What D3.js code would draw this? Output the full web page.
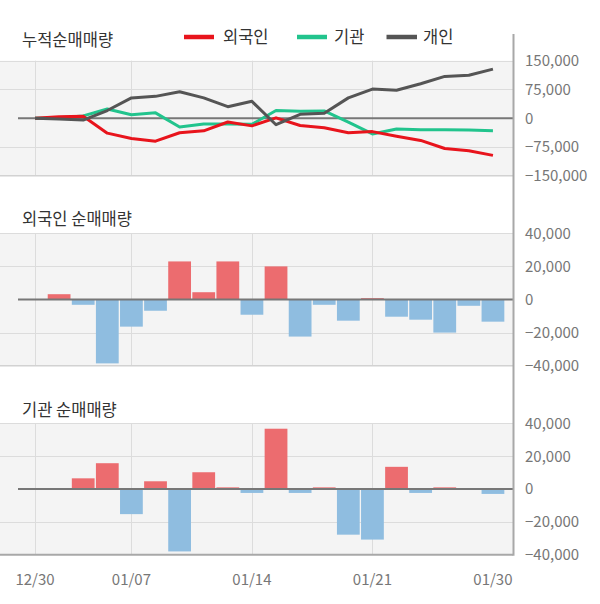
<!DOCTYPE html>
<html><head><meta charset="utf-8">
<script src="https://cdn.jsdelivr.net/npm/d3@7"></script>
<style>
html,body{margin:0;padding:0;background:#fff;}
text{font-family:"Noto Sans CJK KR","Noto Sans",sans-serif;}
</style></head>
<body><svg id="c" width="600" height="604"></svg>
<script>
// ---- data ----
const dates = ["12/30","01/02","01/03","01/06","01/07","01/08","01/09","01/10","01/13","01/14","01/15","01/16","01/17","01/20","01/21","01/22","01/23","01/28","01/29","01/30"];
const tickDates = ["12/30","01/07","01/14","01/21","01/30"];
const gridDates = ["12/30","01/07","01/14","01/21"];
const seriesNames = ["외국인","기관","개인"];
const cumForeign = [0,4000,5000,-39000,-53000,-60000,-38000,-33000,-10000,-20000,1000,-19000,-25000,-38000,-35000,-47000,-58000,-79000,-85000,-97000];
const cumInst = [0,1000,6000,24000,9000,14000,-23000,-15000,-15000,-16000,20000,18000,19000,-10000,-41000,-28000,-30000,-30000,-31000,-33000];
const cumIndiv = [0,-2000,-5000,20000,53000,57000,69000,53000,30000,44000,-17000,10000,13000,53000,76000,73000,90000,109000,112000,128000];
const dailyForeign = [0,3200,-3200,-38600,-16400,-6800,23000,4400,23000,-9200,20000,-22400,-3200,-12800,800,-10400,-12200,-20000,-3800,-13400];
const dailyInst = [0,0,6500,15700,-15300,4700,-38000,10200,1000,-2400,36700,-2400,1000,-27800,-30800,13500,-2400,1000,0,-3000];
const cumTicks = [150000,75000,0,-75000,-150000];
const netTicks = [40000,20000,0,-20000,-40000];
const titles = ["누적순매매량","외국인 순매매량","기관 순매매량"];

// ---- styles ----
const lineColors = ["#e8141c","#22c48d","#555555"];
const posColor = "#ec6c6f", negColor = "#8fbde0";
const bgColor = "#f4f4f4", gridColor = "#dcdcdc", zeroColor = "#777", axisColor = "#a8a8a8";
const labelColor = "#777", titleColor = "#333";
const plotL = 0, plotR = 513, axisX = 513.5;

const svg = d3.select("#c");
const x = d3.scaleBand().domain(dates).range([22.95, 505]).paddingInner(0.055).paddingOuter(0.0275);
const cx = d => x(d) + x.bandwidth()/2;
const fmt = d3.format(",");

function panel(top, bot, domain, ticks, isLast){
  const y = d3.scaleLinear().domain(domain).range([bot, top]);
  const g = svg.append("g");
  g.append("rect").attr("x",plotL).attr("y",top).attr("width",plotR-plotL).attr("height",bot-top).attr("fill",bgColor);
  // horizontal grid
  g.selectAll(".hg").data(ticks.filter(t=>t!==0 && t!==domain[0])).enter().append("line")
    .attr("x1",plotL).attr("x2",plotR).attr("y1",d=>Math.round(y(d))+0.5).attr("y2",d=>Math.round(y(d))+0.5)
    .attr("stroke",gridColor).attr("stroke-width",1);
  // vertical grid
  g.selectAll(".vg").data(gridDates).enter().append("line")
    .attr("x1",d=>Math.round(cx(d))+0.5).attr("x2",d=>Math.round(cx(d))+0.5).attr("y1",top).attr("y2",bot)
    .attr("stroke",gridColor).attr("stroke-width",1);
  // bottom border
  g.append("line").attr("x1",plotL).attr("x2",plotR).attr("y1",y(domain[0])).attr("y2",y(domain[0]))
    .attr("stroke",isLast?axisColor:"#d2d2d2").attr("stroke-width",isLast?2:1.5);
  // right tick labels
  const ax = d3.axisRight(y).tickValues(ticks).tickFormat(fmt).tickSize(0).tickPadding(0);
  const a = svg.append("g").attr("transform",`translate(525,0)`).call(ax);
  a.select(".domain").remove();
  a.selectAll("text").attr("fill",labelColor).style("font-size","15px").attr("dy","0.33em")
    .style("font-family",'"Noto Sans CJK KR","Noto Sans",sans-serif');
  return {y,g};
}

// top panel
const p1 = panel(60.7,175.7,[-150000,150000],cumTicks,false);
const series = [cumInst,cumForeign,cumIndiv];
const colorsOrdered = [lineColors[1],lineColors[0],lineColors[2]];
p1.g.append("line").attr("x1",18).attr("x2",plotR).attr("y1",p1.y(0)).attr("y2",p1.y(0)).attr("stroke",zeroColor).attr("stroke-width",2);
series.forEach((s,k)=>{
  const line = d3.line().x((d,i)=>cx(dates[i])).y(d=>p1.y(d));
  p1.g.append("path").datum(s).attr("d",line).attr("fill","none").attr("stroke",colorsOrdered[k])
    .attr("stroke-width",3).attr("stroke-linejoin","round");
});

// bar panels
function bars(p, data){
  p.g.selectAll(".b").data(data.map((v,i)=>({v,d:dates[i]})).filter(o=>o.v!==0)).enter().append("rect")
    .attr("x",o=>x(o.d)).attr("width",x.bandwidth())
    .attr("y",o=>p.y(Math.max(0,o.v))).attr("height",o=>Math.abs(p.y(o.v)-p.y(0)))
    .attr("fill",o=>o.v>0?posColor:negColor);
  p.g.append("line").attr("x1",18).attr("x2",plotR).attr("y1",p.y(0)).attr("y2",p.y(0)).attr("stroke",zeroColor).attr("stroke-width",2);
}
const p2 = panel(233.3,365.7,[-40000,40000],netTicks,false);
bars(p2, dailyForeign);
const p3 = panel(423.3,554.7,[-40000,40000],netTicks,true);
bars(p3, dailyInst);

// right axis line
svg.append("line").attr("x1",axisX).attr("x2",axisX).attr("y1",34).attr("y2",555.7).attr("stroke",axisColor).attr("stroke-width",2);

// x labels
svg.selectAll(".xl").data(tickDates).enter().append("text")
  .attr("x",d=>cx(d)).attr("y",580).attr("dy","0.35em").attr("text-anchor","middle")
  .attr("fill",labelColor).style("font-size","15px").text(d=>d);

// titles
const titleY = [40.5,219,410];
titles.forEach((t,i)=>svg.append("text").attr("x",22).attr("y",titleY[i]).attr("dy","0.35em")
  .attr("fill",titleColor).style("font-size","16.5px").text(t));

// legend
const legX = [[184,214,223],[297,327,334],[386.5,417,423]];
seriesNames.forEach((n,i)=>{
  svg.append("line").attr("x1",legX[i][0]).attr("x2",legX[i][1]).attr("y1",37).attr("y2",37)
    .attr("stroke",lineColors[i]).attr("stroke-width",4.5);
  svg.append("text").attr("x",legX[i][2]).attr("y",37).attr("dy","0.35em").attr("fill",titleColor)
    .style("font-size","16.5px").text(n);
});
</script></body></html>
